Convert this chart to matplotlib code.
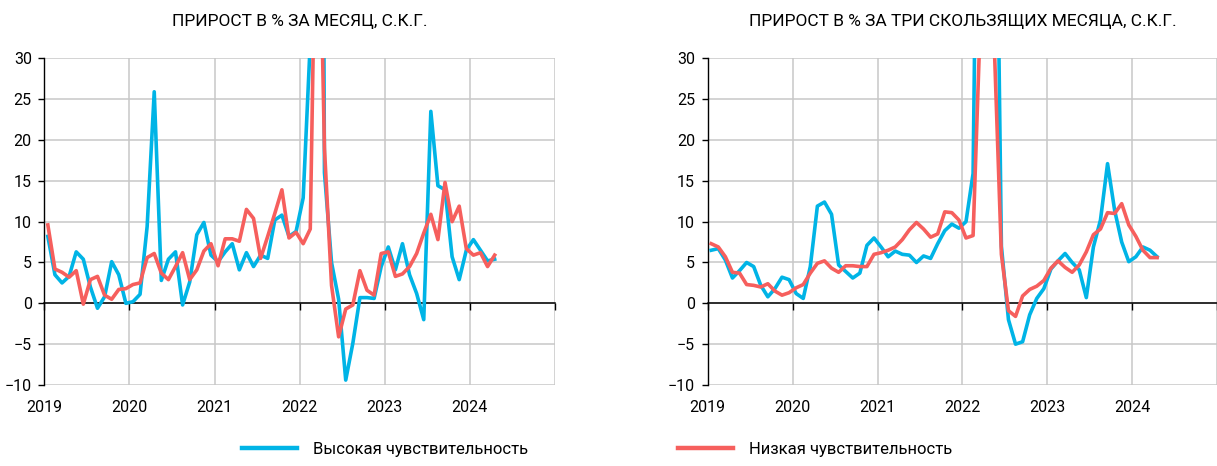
import numpy as np
import matplotlib
matplotlib.use("Agg")
import matplotlib.pyplot as plt

# data: monthly, Jan 2019 - Apr 2024
start_year = 2019
year_ticks = [2019, 2020, 2021, 2022, 2023, 2024, 2025]
year_labels = ["2019", "2020", "2021", "2022", "2023", "2024", ""]

month_high = [8.2, 3.5, 2.5, 3.3, 6.3, 5.4, 2.0, -0.6, 0.8, 5.1, 3.5, 0.0,
              0.2, 1.1, 9.4, 25.9, 2.8, 5.4, 6.3, -0.2, 2.6, 8.4, 9.9, 5.9,
              5.1, 6.3, 7.3, 4.1, 6.2, 4.5, 5.9, 5.5, 10.2, 10.8, 8.2, 8.8,
              12.9, 32.0, 220.0, 16.0, 5.0, 0.5, -9.4, -4.9, 0.7, 0.7, 0.6, 4.5,
              6.9, 4.1, 7.3, 3.5, 1.2, -2.0, 23.5, 14.4, 13.9, 5.7, 2.9, 6.5,
              7.8, 6.5, 5.2, 5.4]

month_low = [9.6, 4.2, 3.8, 3.2, 4.0, -0.1, 2.9, 3.3, 1.0, 0.5, 1.7, 1.8,
             2.3, 2.5, 5.6, 6.1, 3.7, 2.9, 4.5, 6.2, 2.9, 4.1, 6.4, 7.3,
             4.6, 7.9, 7.9, 7.6, 11.5, 10.4, 5.5, 8.2, 11.0, 13.9, 8.0, 8.7,
             7.3, 9.1, 62.0, 19.0, 2.2, -4.1, -0.7, -0.2, 4.0, 1.6, 1.0, 6.1,
             6.3, 3.3, 3.6, 4.5, 6.1, 8.6, 10.9, 7.8, 14.8, 10.0, 11.9, 6.7,
             5.9, 6.2, 4.5, 5.9]

rolling_high = [6.5, 6.7, 5.3, 3.1, 4.0, 5.0, 4.5, 2.2, 0.8, 1.8, 3.2, 2.9,
                1.2, 0.6, 4.5, 11.9, 12.4, 10.9, 4.7, 3.9, 3.1, 3.7, 7.1, 8.0,
                6.9, 5.7, 6.4, 6.0, 5.9, 5.0, 5.8, 5.5, 7.3, 8.9, 9.7, 9.2,
                10.0, 15.9, 88.0, 110.0, 75.0, 7.0, -2.0, -5.0, -4.7, -1.4, 0.6, 1.8,
                4.2, 5.2, 6.1, 5.0, 4.1, 0.7, 6.9, 10.2, 17.1, 11.4, 7.5, 5.1,
                5.7, 6.9, 6.5, 5.7]

rolling_low = [7.3, 6.9, 5.7, 3.8, 3.7, 2.3, 2.2, 2.0, 2.4, 1.5, 1.0, 1.3,
               1.9, 2.3, 3.7, 4.9, 5.2, 4.3, 3.8, 4.6, 4.6, 4.5, 4.5, 6.0,
               6.2, 6.5, 6.9, 7.8, 9.0, 9.9, 9.1, 8.1, 8.5, 11.2, 11.1, 10.2,
               8.0, 8.3, 34.0, 40.0, 31.5, 6.0, -0.9, -1.6, 0.9, 1.7, 2.1, 2.8,
               4.3, 5.2, 4.4, 3.8, 4.7, 6.3, 8.4, 9.1, 11.1, 11.0, 12.2, 9.6,
               8.2, 6.5, 5.6, 5.6]

titles = ["ПРИРОСТ В % ЗА МЕСЯЦ, С.К.Г.",
          "ПРИРОСТ В % ЗА ТРИ СКОЛЬЗЯЩИХ МЕСЯЦА, С.К.Г."]
series_labels = ["Высокая чувствительность", "Низкая чувствительность"]

blue = "#00b4e6"
red = "#f65f5d"
grid_color = "#c8c8c8"

plt.rcParams["font.family"] = ["Roboto", "DejaVu Sans"]

fig = plt.figure(figsize=(12.17, 4.66), dpi=100)
ax1 = fig.add_axes([0.0364, 0.1738, 0.4196, 0.7011])
ax2 = fig.add_axes([0.5815, 0.1738, 0.4187, 0.7011])

y_min, y_max = -10, 30


def draw_panel(ax, high, low, title):
    x = start_year + (np.arange(len(high)) + 0.5) / 12
    ax.plot(x, high, color=blue, lw=2.6, solid_joinstyle="round",
            label=series_labels[0], zorder=3)
    ax.plot(x, low, color=red, lw=2.6, solid_joinstyle="round",
            label=series_labels[1], zorder=4)

    ax.set_xlim(year_ticks[0], year_ticks[-1])
    ax.set_ylim(y_min, y_max)
    ax.set_yticks(np.arange(y_min, y_max + 1, 5))
    ax.set_xticks(year_ticks)
    ax.set_xticklabels(year_labels)

    ax.set_axisbelow(True)
    ax.grid(True, color=grid_color, lw=1.1)

    for side in ["top", "right", "bottom"]:
        ax.spines[side].set_visible(False)
    ax.spines["left"].set_color("black")
    ax.spines["left"].set_linewidth(1.0)

    ax.tick_params(axis="y", direction="out", length=4, width=1.0,
                   pad=5, labelsize=11.5)
    ax.tick_params(axis="x", length=0, pad=11, labelsize=11.5)

    # zero line with year ticks
    zero = ax.secondary_xaxis((0 - y_min) / (y_max - y_min))
    zero.set_zorder(2)
    zero.set_xticks(year_ticks)
    zero.tick_params(direction="out", length=5, width=1.0, color="black",
                     labelbottom=False)
    zero.spines["bottom"].set_color("black")
    zero.spines["bottom"].set_linewidth(1.1)

    # title centred over the plot area
    pos = ax.get_position()
    fig.text((pos.x0 + pos.x1) / 2, 0.953, title, ha="center", va="center",
             fontsize=12.5)


draw_panel(ax1, month_high, month_low, titles[0])
draw_panel(ax2, rolling_high, rolling_low, titles[1])

handles, labels = ax1.get_legend_handles_labels()
leg = fig.legend(handles, labels, loc="lower center", bbox_to_anchor=(0.4905, -0.012),
                 ncol=2, frameon=False, fontsize=12, handlelength=3.3,
                 handletextpad=0.95, columnspacing=9.0)
for line in leg.get_lines():
    line.set_linewidth(3.2)

fig.savefig("out.png", dpi=100)
